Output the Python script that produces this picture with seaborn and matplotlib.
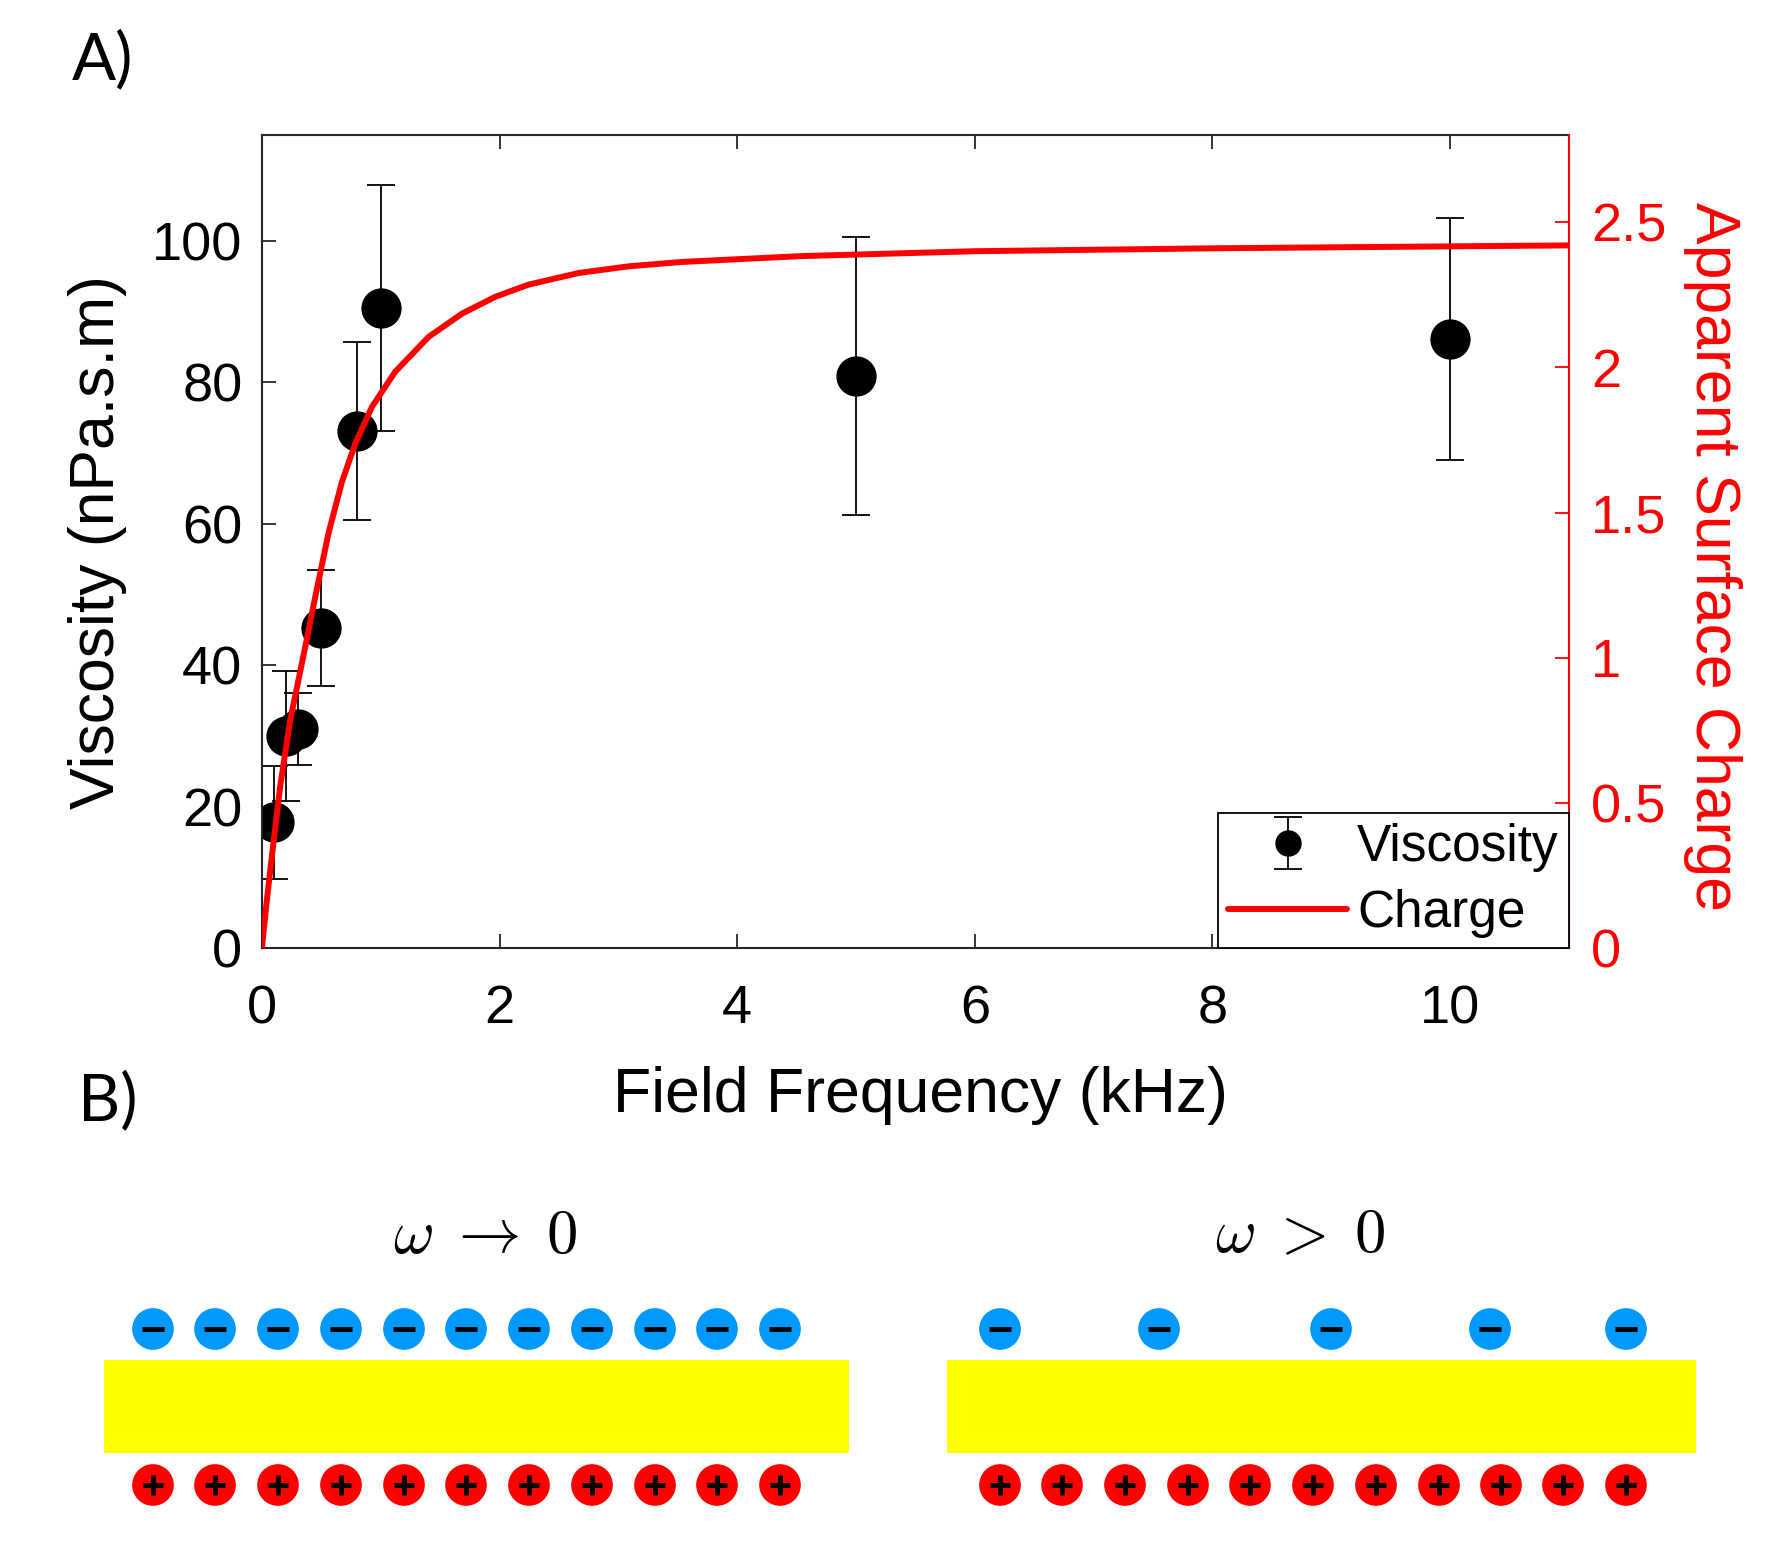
import matplotlib
matplotlib.use('Agg')
import matplotlib.pyplot as plt
import seaborn as sns
from matplotlib.patches import Rectangle
from matplotlib.container import ErrorbarContainer
from matplotlib.legend_handler import HandlerErrorbar

# 粘度测量数据 (kHz, nPa.s.m)
freq_khz = [0.1, 0.2, 0.3, 0.5, 0.8, 1.0, 5.0, 10.0]
viscosity = [17.8, 30.0, 31.0, 45.3, 73.1, 90.5, 80.9, 86.2]
visc_err = [8.0, 9.2, 5.1, 8.2, 12.6, 17.4, 19.7, 17.1]

# 表观表面电荷曲线
curve_freq = [0, 0.04, 0.084, 0.154, 0.238, 0.365, 0.449, 0.561, 0.673, 0.786,
              0.926, 1.122, 1.403, 1.684, 1.964, 2.245, 2.666, 3.087, 3.535,
              4.53, 6.0, 8.0, 11.0]
curve_charge = [0, 0.16, 0.317, 0.558, 0.785, 1.038, 1.21, 1.43, 1.605, 1.738,
                1.864, 1.985, 2.105, 2.185, 2.243, 2.285, 2.325, 2.348, 2.363,
                2.383, 2.40, 2.41, 2.42]

x_ticks = [0, 2, 4, 6, 8, 10]
y_ticks = [0, 20, 40, 60, 80, 100]
charge_ticks = [0, 0.5, 1, 1.5, 2, 2.5]
charge_tick_labels = ['0', '0.5', '1', '1.5', '2', '2.5']

# B) 示意图: 离子位置 (像素坐标)
left_neg_x = [153, 215, 278, 341, 404, 466, 529, 592, 655, 717, 780]
left_pos_x = [153, 215, 278, 341, 404, 466, 529, 592, 655, 717, 780]
right_neg_x = [1000, 1159, 1331, 1490, 1626]
right_pos_x = [1000, 1062, 1125, 1188, 1250, 1313, 1376, 1439, 1501, 1563, 1626]
neg_y = 1329
pos_y = 1485
slabs = [(104, 1360, 745, 93), (947, 1360, 749, 93)]
slab_titles = [r'$\omega\;\rightarrow\;0$', r'$\omega\;>\;0$']
slab_title_x = [485, 1300]

sns.set_style('ticks')
plt.rcParams['font.family'] = ['Liberation Sans', 'DejaVu Sans']
plt.rcParams['mathtext.fontset'] = 'cm'
plt.rcParams['text.color'] = 'black'
plt.rcParams['axes.labelcolor'] = 'black'

axis_col = '#262626'

fig = plt.figure(figsize=(17.77, 15.65), dpi=100)

# 背景坐标系: 用于标注和示意图
axb = fig.add_axes([0, 0, 1, 1], zorder=0)
axb.set_xlim(0, 1777)
axb.set_ylim(1565, 0)
axb.axis('off')

ax = fig.add_axes([0.1474, 0.3942, 0.7355, 0.5195], zorder=2)
eb = ax.errorbar(freq_khz, viscosity, yerr=visc_err, fmt='o', color='black',
                 ms=28, elinewidth=1.3, capsize=10, capthick=1.3, label='Viscosity')
ax.set_xlim(0, 11)
ax.set_ylim(0, 115)
ax.set_xticks(x_ticks)
ax.set_yticks(y_ticks)
ax.tick_params(axis='both', direction='in', length=10, width=1.3, labelsize=39,
               top=True, right=False, color=axis_col, labelcolor='black')
ax.tick_params(axis='x', pad=26)
ax.tick_params(axis='y', pad=14)
for s in ['left', 'top', 'bottom']:
    ax.spines[s].set_color(axis_col)
    ax.spines[s].set_linewidth(1.5)
ax.spines['right'].set_visible(False)
ax.set_xlabel('Field Frequency (kHz)', fontsize=45)
ax.set_ylabel('Viscosity (nPa.s.m)', fontsize=45)
ax.xaxis.set_label_coords(0.504, -0.145)
ax.yaxis.set_label_coords(-0.103, 0.5)

ax2 = ax.twinx()
sns.lineplot(x=curve_freq, y=curve_charge, ax=ax2, color='red', lw=4.3,
             sort=False, estimator=None, label='Charge', legend=False,
             solid_joinstyle='round')
ax2.set_ylim(0, 2.8)
ax2.set_yticks(charge_ticks)
ax2.set_yticklabels(charge_tick_labels)
ax2.tick_params(axis='y', direction='in', length=10, width=1.3, labelsize=39,
                colors='red', pad=16)
for s in ['left', 'top', 'bottom']:
    ax2.spines[s].set_visible(False)
ax2.spines['right'].set_color('red')
ax2.spines['right'].set_linewidth(1.5)
ax2.set_ylabel('Apparent Surface Charge', fontsize=45, color='red',
               rotation=270, va='bottom')
ax2.yaxis.set_label_coords(1.087, 0.482)


def shrink_marker(legend_handle, orig_handle):
    legend_handle.update_from(orig_handle)
    if hasattr(legend_handle, 'get_marker') and legend_handle.get_marker() == 'o':
        legend_handle.set_markersize(18)


leg = ax2.legend([eb, ax2.get_lines()[0]], ['Viscosity', 'Charge'],
                 loc='lower right', borderaxespad=0, fontsize=37,
                 frameon=True, fancybox=False, edgecolor='black', framealpha=1,
                 handlelength=2.3, handletextpad=0.2, labelspacing=0.33,
                 borderpad=0.2,
                 handler_map={ErrorbarContainer: HandlerErrorbar(update_func=shrink_marker)})
leg.get_frame().set_linewidth(1.3)

# 面板标签
label_font = ['Lato', 'DejaVu Sans']
axb.text(72, 79, 'A)', fontsize=47, family=label_font, va='baseline', ha='left')
axb.text(78, 1120, 'B)', fontsize=47, family=label_font, va='baseline', ha='left')

# B) 示意图
for (x0, y0, w, h) in slabs:
    axb.add_patch(Rectangle((x0, y0), w, h, facecolor='#FFFF00', edgecolor='none'))
for tx, tt in zip(slab_title_x, slab_titles):
    axb.text(tx, 1236, tt, fontsize=45, ha='center', va='center')

neg_x = left_neg_x + right_neg_x
pos_x = left_pos_x + right_pos_x
sns.scatterplot(x=neg_x, y=[neg_y] * len(neg_x), ax=axb, s=900, color='#0099FF',
                edgecolor='none', legend=False)
sns.scatterplot(x=pos_x, y=[pos_y] * len(pos_x), ax=axb, s=900, color='#FF0000',
                edgecolor='none', legend=False)
axb.scatter(neg_x, [neg_y] * len(neg_x), marker='_', s=250, color='black', linewidths=3.6)
axb.scatter(pos_x, [pos_y] * len(pos_x), marker='+', s=220, color='black', linewidths=3.6)
axb.set_xlim(0, 1777)
axb.set_ylim(1565, 0)

fig.savefig('out.png', dpi=100)
